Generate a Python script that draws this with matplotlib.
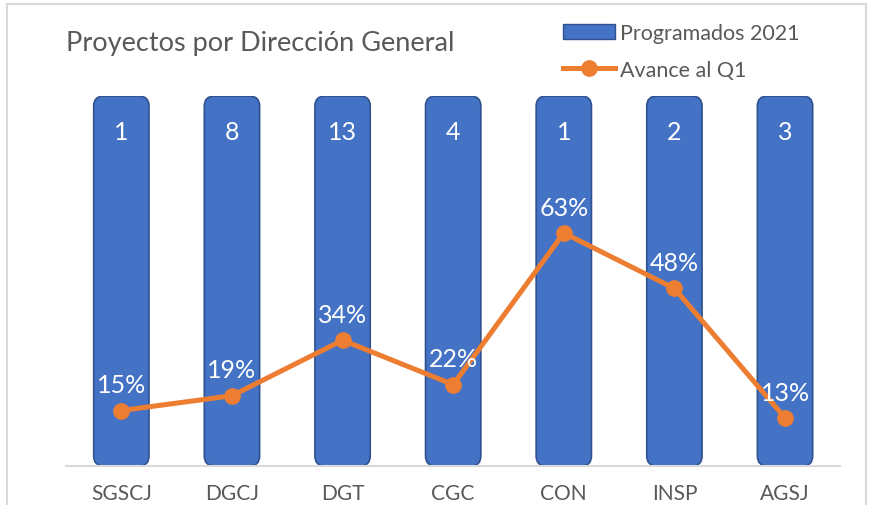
import matplotlib.pyplot as plt
from matplotlib.patches import FancyBboxPatch, Rectangle

plt.rcParams["font.family"] = ["Lato", "DejaVu Sans"]

direcciones = ["SGSCJ", "DGCJ", "DGT", "CGC", "CON", "INSP", "AGSJ"]
programados = [1, 8, 13, 4, 1, 2, 3]
avance = [0.15, 0.19, 0.34, 0.22, 0.63, 0.48, 0.13]

azul = "#4472C4"
naranja = "#ED7D31"
gris = "#595959"

fig = plt.figure(figsize=(8.69, 5.06), dpi=100)
ax = fig.add_axes([0.076, 0.0771, 0.891, 0.731])

x = list(range(len(direcciones)))

# bars fill the whole height, the count goes in the label
bars = ax.bar(x, [1] * len(x), width=0.5, color=azul)
for b in bars:
    bx, by = b.get_x(), b.get_y()
    w, h = b.get_width(), b.get_height()
    b.remove()
    ax.add_patch(FancyBboxPatch(
        (bx, by), w, h,
        boxstyle="round,pad=0,rounding_size=0.09",
        mutation_aspect=0.3,
        facecolor=azul, edgecolor="#2F528F", linewidth=1.2, zorder=2
    ))

ax.plot(x, avance, color=naranja, linewidth=3.6, marker="o",
        markersize=11, zorder=3, solid_capstyle="round")

for i, n in enumerate(programados):
    ax.text(i, 0.905, str(n), ha="center", va="center",
            color="white", fontsize=18, zorder=4)

for i, v in enumerate(avance):
    ax.text(i, v + 0.07, f"{v:.0%}", ha="center", va="center",
            color="white", fontsize=18, zorder=4)

ax.set_xlim(-0.5, 6.5)
ax.set_ylim(0, 1)
ax.set_yticks([])
ax.set_xticks(x)
ax.set_xticklabels(direcciones, fontsize=15, color=gris)
ax.tick_params(axis="x", length=0, pad=12)
for s in ["top", "right", "left"]:
    ax.spines[s].set_visible(False)
ax.spines["bottom"].set_color("#D9D9D9")
ax.spines["bottom"].set_linewidth(1.5)

fig.text(66 / 869, 1 - 43 / 506, "Proyectos por Dirección General",
         fontsize=19.5, color=gris, ha="left", va="center")

h1 = Rectangle((0, 0), 1, 1, facecolor=azul, edgecolor="#2F528F")
h2, = plt.plot([], [], color=naranja, linewidth=3.6, marker="o", markersize=11)
fig.legend([h1, h2], ["Programados 2021", "Avance al Q1"],
           loc="upper left", bbox_to_anchor=(0.6255, 0.99),
           frameon=False, fontsize=15.5, labelcolor=gris,
           handlelength=2.4, handletextpad=0.25, labelspacing=0.75)

# light frame of the chart area
fig.patches.append(Rectangle((7 / 869, -0.1), 859 / 869, 1 - 5 / 506 + 0.1,
                             transform=fig.transFigure, fill=False,
                             edgecolor="#D9D9D9", linewidth=1.5))

fig.savefig("out.png", dpi=100)
